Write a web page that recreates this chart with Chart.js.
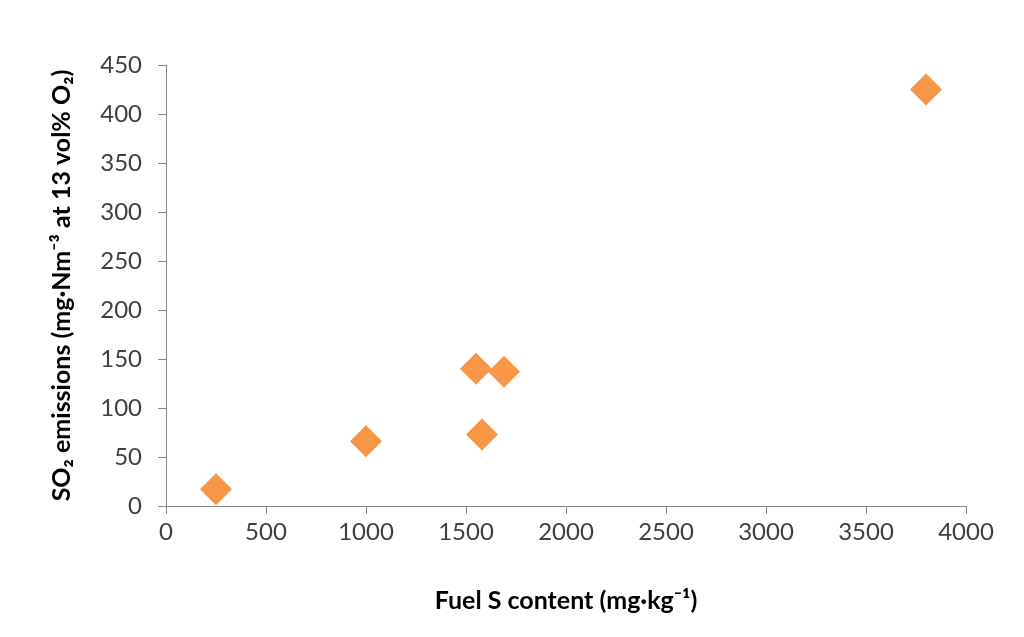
<!DOCTYPE html>
<html>
<head>
<meta charset="utf-8">
<script src="https://cdn.jsdelivr.net/npm/chart.js@4/dist/chart.umd.min.js"></script>
<style>
  html, body { margin: 0; padding: 0; background: #ffffff; }
  #wrap { width: 1024px; height: 637px; position: relative; }
</style>
</head>
<body>
<div id="wrap"><canvas id="c" width="1024" height="637"></canvas></div>
<script>
const fuelS = [250, 1000, 1550, 1580, 1690, 3800];
const so2 = [17, 66, 140, 73, 137, 425];
const xTitle = 'Fuel S content (mg\u00B7kg\u207B\u00B9)';
const yTitle = 'SO\u2082 emissions (mg\u00B7Nm\u207B\u00B3 at 13 vol% O\u2082)';

const tickFont = { family: "Lato, 'Open Sans', sans-serif", size: 24 };
const titleFont = { family: "Lato, 'Open Sans', sans-serif", size: 25, weight: 'bold' };

new Chart(document.getElementById('c'), {
  type: 'scatter',
  data: {
    datasets: [{
      data: fuelS.map((x, i) => ({ x: x, y: so2[i] })),
      pointStyle: 'rectRot',
      pointRadius: 16,
      pointHoverRadius: 16,
      backgroundColor: '#F79646',
      borderColor: '#F79646',
      borderWidth: 0
    }]
  },
  options: {
    responsive: false,
    animation: false,
    devicePixelRatio: 1,
    layout: { padding: { left: 0, top: 65, right: 58, bottom: 0 } },
    plugins: { legend: { display: false }, tooltip: { enabled: false } },
    scales: {
      x: {
        type: 'linear',
        min: 0, max: 4000,
        ticks: { stepSize: 500, color: '#404040', font: tickFont, padding: 4, maxRotation: 0,
                 callback: v => String(v) },
        grid: { drawOnChartArea: false, drawTicks: true, tickLength: 8, color: '#868686' },
        border: { color: '#868686', width: 1 },
        title: { display: true, text: xTitle, color: '#000000', font: titleFont, padding: { top: 0, bottom: 21 } },
        afterFit: s => { s.height = 131; }
      },
      y: {
        type: 'linear',
        min: 0, max: 450,
        ticks: { stepSize: 50, color: '#404040', font: tickFont, padding: 16,
                 callback: v => String(v) },
        grid: { drawOnChartArea: false, drawTicks: true, tickLength: 8, color: '#868686' },
        border: { color: '#868686', width: 1 },
        title: { display: true, text: yTitle, color: '#000000', font: titleFont, padding: { top: 47, bottom: 0 } },
        afterFit: s => { s.width = 166; }
      }
    }
  }
});
</script>
</body>
</html>
